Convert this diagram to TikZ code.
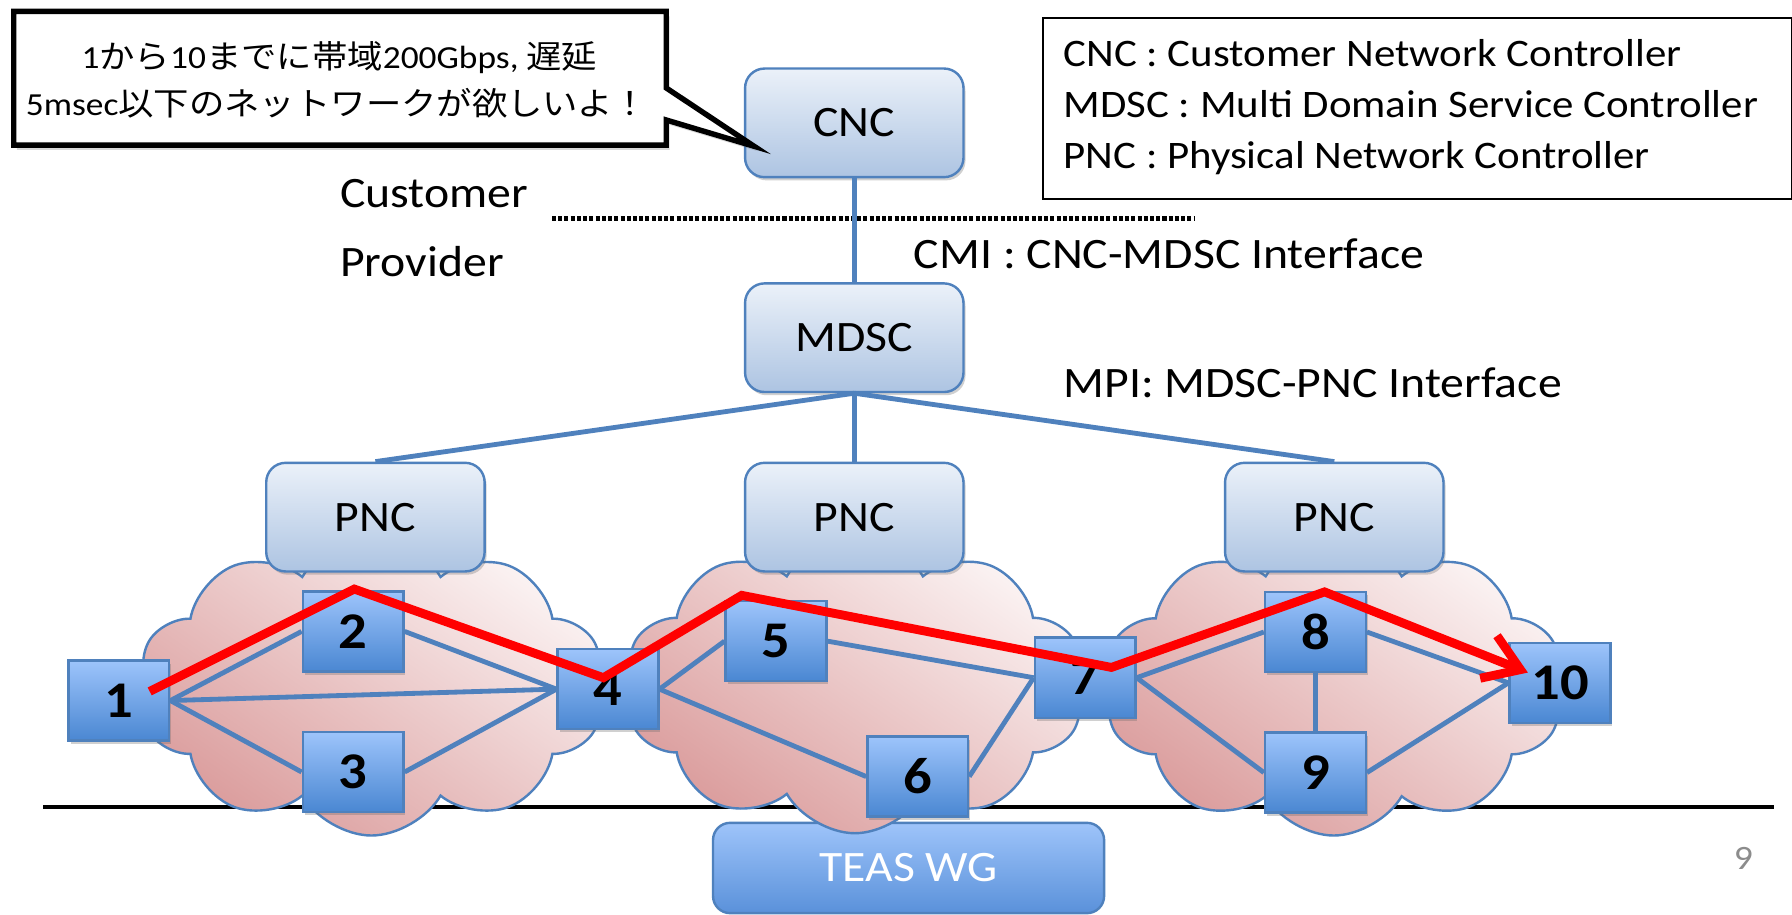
\documentclass[tikz,border=0pt]{standalone}
\usepackage{fontspec}
\setmainfont{Carlito}[FakeStretch=1.1]
\newfontfamily\jpfont{Noto Sans CJK JP}[FakeStretch=1.1]
\usetikzlibrary{shapes.symbols,shadows,arrows.meta,calc}

\definecolor{ctrlTop}{HTML}{EBF1F9}
\definecolor{ctrlBot}{HTML}{ADC4E2}
\definecolor{frame}{HTML}{4F81BD}
\definecolor{nodeTop}{HTML}{9DC4FB}
\definecolor{nodeBot}{HTML}{4A87D2}
\definecolor{linkBlue}{HTML}{4F81BD}
\definecolor{cloudLight}{HTML}{FBF3F3}
\definecolor{cloudDark}{HTML}{DB9D9D}
\definecolor{teasTop}{HTML}{9EC4FA}
\definecolor{teasBot}{HTML}{5A91DA}
\definecolor{pageGray}{HTML}{8C8C8C}

\newcommand\lblfont{\fontsize{10.8pt}{13pt}\selectfont}
\newcommand\legfont{\fontsize{9.7pt}{12pt}\selectfont}
\newcommand\bubfont{\fontsize{8pt}{10pt}\selectfont}
\newcommand\numfont{\fontsize{12.8pt}{15pt}\selectfont\bfseries}
\newcommand\pgfont{\fontsize{8.5pt}{10pt}\selectfont}

\begin{document}
\begin{tikzpicture}[x=0.01cm, y=-0.01cm,
  softshadow/.style={drop shadow={shadow xshift=0.5pt, shadow yshift=-0.8pt, opacity=0.3, fill=black!60}},
  ctrlbox/.style={draw=frame, line width=0.6pt, rounded corners=0.17cm,
    top color=ctrlTop, bottom color=ctrlBot, minimum width=1.91cm,
    minimum height=0.95cm, inner sep=0pt, font=\lblfont, softshadow},
  router/.style={draw=frame, line width=0.6pt, top color=nodeTop,
    bottom color=nodeBot, minimum width=0.88cm, minimum height=0.70cm,
    inner sep=0pt, font=\numfont, softshadow},
  netcloud/.style={cloud, cloud puffs=10, cloud puff arc=120, cloud ignores aspect,
    draw=frame, line width=0.6pt, top color=cloudLight, bottom color=cloudDark,
    shading angle=-35, inner sep=0pt},
  teasbox/.style={draw=frame, line width=0.6pt, rounded corners=0.15cm,
    top color=teasTop, bottom color=teasBot, minimum width=3.42cm,
    minimum height=0.79cm, inner sep=0pt, font=\lblfont, text=white},
  link/.style={draw=linkBlue, line width=1.2pt},
  redpath/.style={draw=red, line width=2.2pt, -{Straight Barb[length=0.30cm,width=0.40cm]}},
  plain/.style={inner sep=0pt, font=\lblfont},
  legtext/.style={inner sep=0pt, font=\legfont, anchor=base west},
  bubble/.style={draw=black, line width=1.35pt, fill=white,
    drop shadow={shadow xshift=0.8pt, shadow yshift=-1.2pt, opacity=0.25, fill=black!60}}
]

\fill[white] (0,0) rectangle (1568,800);
\useasboundingbox (0,0) rectangle (1568,800);

% ground line under the domains
\coordinate (baseL) at (38,706);
\coordinate (baseR) at (1552,706);
\draw[black, line width=1.15pt] (baseL) -- (baseR);

% working group label box
\node[teasbox] (teas) at (795,759.5) {TEAS WG};

% three network domains
\node[netcloud, minimum width=4.08cm, minimum height=2.61cm] (cloudA) at (325,600.5) {};
\node[netcloud, minimum width=4.02cm, minimum height=2.59cm] (cloudB) at (748,599.5) {};
\node[netcloud, minimum width=4.02cm, minimum height=2.61cm] (cloudC) at (1167,600.5) {};

% customer / provider boundary
\coordinate (sepL) at (483,191);
\coordinate (sepR) at (1045,191);
\draw[black, line width=1.2pt, dash pattern=on 1.0pt off 0.55pt] (sepL) -- (sepR);

% controllers
\node[ctrlbox] (cnc)  at (747.5,107.5) {CNC};
\node[ctrlbox] (mdsc) at (747.5,295.5) {MDSC};
\node[ctrlbox] (pncA) at (328.5,452.5) {PNC};
\node[ctrlbox] (pncB) at (747.5,452.5) {PNC};
\node[ctrlbox] (pncC) at (1167.5,452.5) {PNC};

\draw[link] (cnc.south) -- (mdsc.north);
\draw[link] (mdsc.south) -- (pncA.north);
\draw[link] (mdsc.south) -- (pncB.north);
\draw[link] (mdsc.south) -- (pncC.north);

% network elements
\node[router] (n1)  at (104,613) {1};
\node[router] (n2)  at (309,552.5) {2};
\node[router] (n3)  at (309,675.5) {3};
\node[router] (n4)  at (532,603) {4};
\node[router] (n5)  at (679,561) {5};
\node[router] (n6)  at (803,679.5) {6};
\node[router] (n7)  at (949.5,593) {7};
\node[router] (n8)  at (1151,553) {8};
\node[router] (n9)  at (1151,676) {9};
\node[router] (n10) at (1365,597.5) {10};

% physical links
\draw[link] (n1.east) -- (n2.west);
\draw[link] (n1.east) -- (n3.west);
\draw[link] (n1.east) -- (n4.west);
\draw[link] (n2.east) -- (n4.west);
\draw[link] (n3.east) -- (n4.west);
\draw[link] (n4.east) -- (n5.west);
\draw[link] (n4.east) -- (n6.west);
\draw[link] (n5.east) -- (n7.west);
\draw[link] (n6.east) -- (n7.west);
\draw[link] (n7.east) -- (n8.west);
\draw[link] (n7.east) -- (n9.west);
\draw[link] (n8.south) -- (n9.north);
\draw[link] (n8.east) -- (n10.west);
\draw[link] (n9.east) -- (n10.west);

% requested path from 1 to 10
\draw[redpath] ($(n1.center)+(27,-8)$) -- ($(n2.north)+(1,-1)$)
  -- ($(n4.center)+(-4,-10)$) -- ($(n5.north)+(-30,-4)$)
  -- ($(n7.center)+(23,-9)$) -- ($(n8.north)+(8,1)$)
  -- ($(n10.west)+(17,-9)$);

% customer request bubble
\filldraw[bubble] (12,10) -- (583,10) -- (583,77) -- ($(cnc.west)+(9,20.5)$)
  -- (583,105) -- (583,127) -- (12,127) -- cycle;
\node[inner sep=0pt, font=\bubfont, anchor=base] (reqA) at (297,60)
  {1{\jpfont から}10{\jpfont までに帯域}200Gbps, {\jpfont 遅延}};
\node[inner sep=0pt, font=\bubfont, anchor=base] (reqB) at (295,101)
  {5msec{\jpfont 以下のネットワークが欲しいよ！}};

% side labels
\node[plain, anchor=base west] (cust) at (297,182) {Customer};
\node[plain, anchor=base west] (prov) at (297,242) {Provider};
\node[plain, anchor=base west] (cmi)  at (799,235) {CMI : CNC-MDSC Interface};
\node[plain, anchor=base west] (mpi)  at (930,348) {MPI: MDSC-PNC Interface};

% abbreviations
\node[draw=black, line width=0.5pt, anchor=north west, minimum width=6.545cm,
  minimum height=1.59cm, inner sep=0pt] (legend) at (912,14.5) {};
\node[legtext] (legA) at (930,58)  {CNC : Customer Network Controller};
\node[legtext] (legB) at (930,103) {MDSC : Multi Domain Service Controller};
\node[legtext] (legC) at (930,147) {PNC : Physical Network Controller};

% page number
\node[inner sep=0pt, font=\pgfont, text=pageGray, anchor=base] (pg) at (1525.5,761) {9};

\end{tikzpicture}
\end{document}
